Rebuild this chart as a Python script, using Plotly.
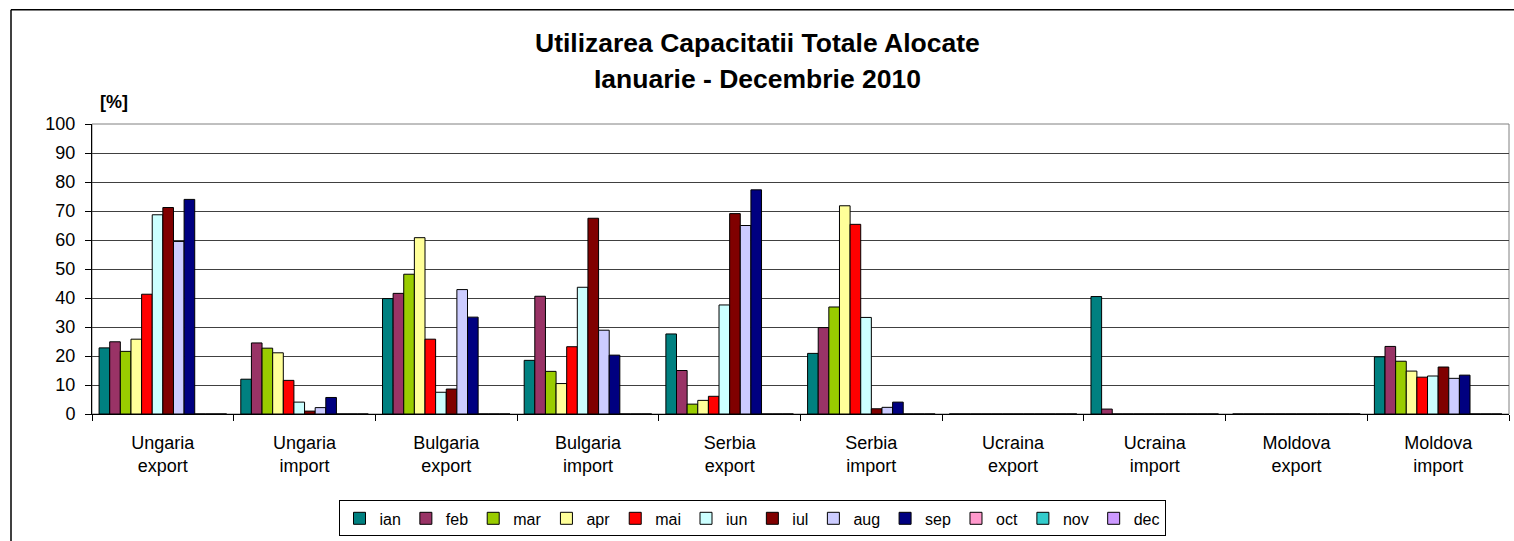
import plotly.graph_objects as go

categories = ["Ungaria<br>export", "Ungaria<br>import", "Bulgaria<br>export", "Bulgaria<br>import",
              "Serbia<br>export", "Serbia<br>import", "Ucraina<br>export", "Ucraina<br>import",
              "Moldova<br>export", "Moldova<br>import"]

months = ["ian", "feb", "mar", "apr", "mai", "iun", "iul", "aug", "sep", "oct", "nov", "dec"]

ian = [22.8, 12.0, 39.8, 18.5, 27.6, 20.9, 0, 40.5, 0, 19.7]
feb = [24.9, 24.5, 41.6, 40.6, 15.0, 29.8, 0, 1.7, 0, 23.3]
mar = [21.6, 22.7, 48.2, 14.7, 3.4, 36.9, 0, 0, 0, 18.2]
apr = [25.8, 21.1, 60.8, 10.5, 4.7, 71.8, 0, 0, 0, 14.8]
mai = [41.3, 11.6, 25.8, 23.2, 6.1, 65.4, 0, 0, 0, 12.7]
iun = [68.7, 4.1, 7.5, 43.7, 37.6, 33.3, 0, 0, 0, 13.1]
iul = [71.2, 1.0, 8.6, 67.5, 69.1, 1.8, 0, 0, 0, 16.2]
aug = [59.5, 2.2, 42.9, 28.9, 65.0, 2.3, 0, 0, 0, 12.3]
sep = [74.0, 5.7, 33.4, 20.3, 77.3, 4.1, 0, 0, 0, 13.4]
oct_ = [0, 0, 0, 0, 0, 0, 0, 0, 0, 0]
nov = [0, 0, 0, 0, 0, 0, 0, 0, 0, 0]
dec = [0, 0, 0, 0, 0, 0, 0, 0, 0, 0]

series = [ian, feb, mar, apr, mai, iun, iul, aug, sep, oct_, nov, dec]
colors = ["#008080", "#993366", "#99CC00", "#FFFF99", "#FF0000", "#CCFFFF",
          "#800000", "#CCCCFF", "#000080", "#FF99CC", "#33CCCC", "#CC99FF"]

y_ticks = [0, 10, 20, 30, 40, 50, 60, 70, 80, 90, 100]

FONT = "Arial, Liberation Sans, sans-serif"

fig = go.Figure()
for name, vals, col in zip(months, series, colors):
    fig.add_trace(go.Bar(
        x=categories, y=vals, name=name,
        marker=dict(color=col, line=dict(color="black", width=1)),
    ))

W, H = 1514, 541
L, R, T, B = 92, 5, 124, 125
pw = W - L - R
ph = H - T - B

def px_x(p):
    return (p - L) / pw

def px_y(p):
    return (H - B - p) / ph

fig.update_layout(
    width=W, height=H,
    margin=dict(l=L, r=R, t=T, b=B),
    paper_bgcolor="white", plot_bgcolor="white",
    barmode="group", bargap=0.1, bargroupgap=0,
    font=dict(family=FONT, size=18, color="black"),
    showlegend=True,
    legend=dict(
        orientation="h", x=px_x(752), xanchor="center", y=px_y(503), yanchor="top",
        bordercolor="black", borderwidth=1, bgcolor="white",
        font=dict(family=FONT, size=16, color="black"),
        itemwidth=30, tracegroupgap=0,
    ),
    xaxis=dict(
        type="category", tickson="boundaries", ticks="outside", ticklen=6,
        tickcolor="black", showline=True, linecolor="black", linewidth=1,
        showgrid=False, tickfont=dict(family=FONT, size=18, color="black"),
        ticklabelstandoff=12,
    ),
    yaxis=dict(
        range=[0, 100], tickvals=y_ticks, ticks="outside", ticklen=6,
        tickcolor="black", showline=True, linecolor="black", linewidth=1,
        showgrid=True, gridcolor="#404040", gridwidth=1, zeroline=False,
        tickfont=dict(family=FONT, size=18, color="black"),
        ticklabelstandoff=6,
    ),
    shapes=[
        dict(type="rect", xref="paper", yref="paper", x0=0, x1=1, y0=0, y1=1,
             line=dict(color="#808080", width=1), layer="below"),
        dict(type="line", xref="paper", yref="paper", x0=px_x(11), x1=px_x(11),
             y0=px_y(9), y1=px_y(560), line=dict(color="black", width=1.5)),
        dict(type="line", xref="paper", yref="paper", x0=px_x(11), x1=px_x(1530),
             y0=px_y(9), y1=px_y(9), line=dict(color="black", width=1.5)),
    ],
    annotations=[
        dict(text="<b>Utilizarea Capacitatii Totale Alocate</b>", xref="paper", yref="paper",
             x=px_x(757), y=px_y(42.5), xanchor="center", yanchor="middle", showarrow=False,
             font=dict(family=FONT, size=26.5, color="black")),
        dict(text="<b>Ianuarie - Decembrie 2010</b>", xref="paper", yref="paper",
             x=px_x(757), y=px_y(79), xanchor="center", yanchor="middle", showarrow=False,
             font=dict(family=FONT, size=26.5, color="black")),
        dict(text="<b>[%]</b>", xref="paper", yref="paper",
             x=px_x(114), y=px_y(101.5), xanchor="center", yanchor="middle", showarrow=False,
             font=dict(family=FONT, size=18, color="black")),
    ],
)

fig.write_html(
    "out.html",
    config={"displayModeBar": False},
    post_script="document.body.style.margin='0';document.body.style.overflow='hidden';",
)
